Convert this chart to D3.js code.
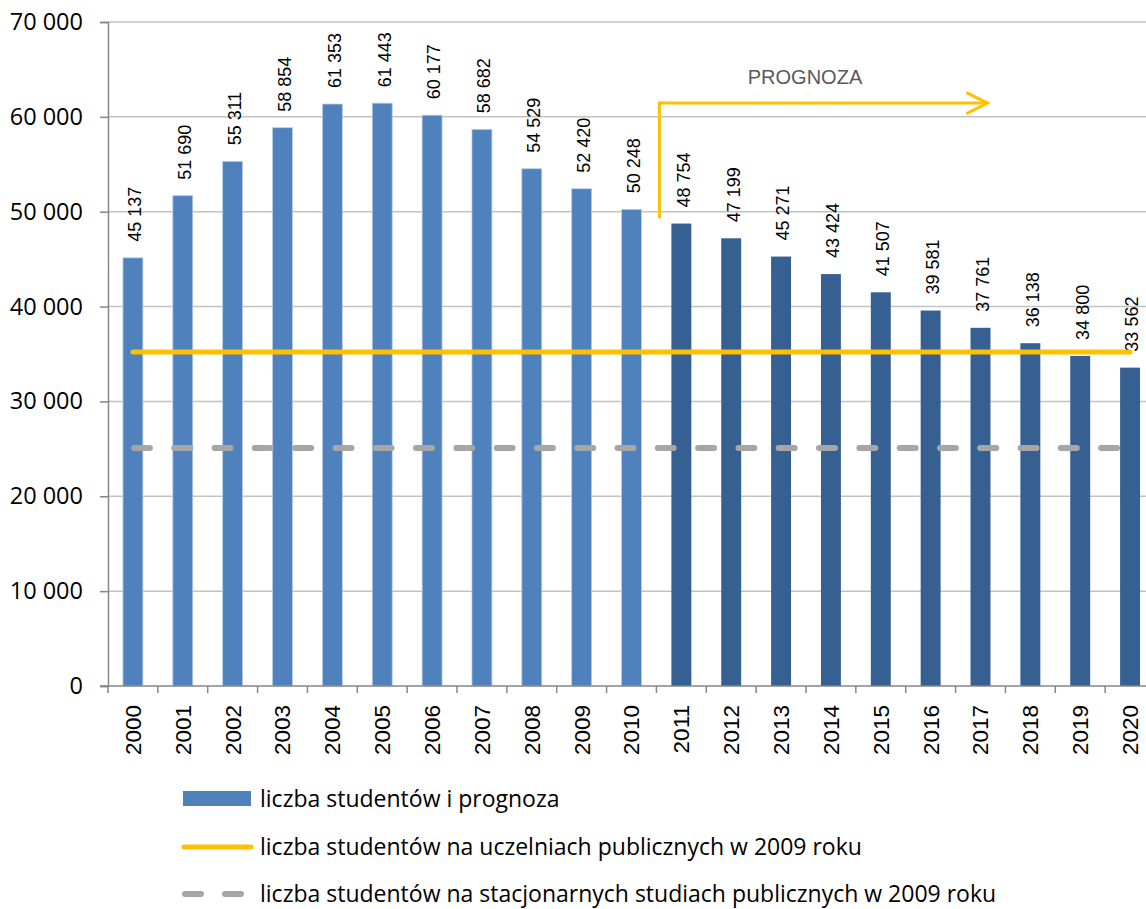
<!DOCTYPE html>
<html>
<head>
<meta charset="utf-8">
<script src="https://cdn.jsdelivr.net/npm/d3@7"></script>
<style>
  body { margin: 0; background: #fff; }
</style>
</head>
<body>
<div id="chart"></div>
<script>
// data
const years = ["2000","2001","2002","2003","2004","2005","2006","2007","2008","2009","2010",
               "2011","2012","2013","2014","2015","2016","2017","2018","2019","2020"];
const students = [45137, 51690, 55311, 58854, 61353, 61443, 60177, 58682, 54529, 52420, 50248,
                  48754, 47199, 45271, 43424, 41507, 39581, 37761, 36138, 34800, 33562];
const forecastFrom = "2011";
const publicLevel = 35200;      // liczba studentów na uczelniach publicznych w 2009
const fullTimeLevel = 25100;    // stacjonarne studia publiczne w 2009
const yTicks = [0, 10000, 20000, 30000, 40000, 50000, 60000, 70000];
const legendLabels = [
  "liczba studentów i prognoza",
  "liczba studentów na uczelniach publicznych w 2009 roku",
  "liczba studentów na stacjonarnych studiach publicznych w 2009 roku"
];

const W = 1146, H = 909;
const pLeft = 108, pRight = 1155, pTop = 22, pBottom = 686;

const svg = d3.select("#chart").append("svg")
    .attr("width", W)
    .attr("height", H);

const x = d3.scaleBand().domain(years).range([pLeft, pRight]).paddingInner(0.6).paddingOuter(0.3);
const y = d3.scaleLinear().domain([0, 70000]).range([pBottom, pTop]);

const fmt = v => d3.format(",")(v).replace(/,/g, " ");
const step = x.step();

// gridlines
svg.append("g")
  .selectAll("line")
  .data(yTicks.filter(d => d > 0))
  .join("line")
    .attr("x1", pLeft).attr("x2", W)
    .attr("y1", d => y(d)).attr("y2", d => y(d))
    .attr("stroke", "#c3c3c3")
    .attr("stroke-width", 1.5);

// bars
svg.append("g")
  .selectAll("rect")
  .data(years)
  .join("rect")
    .attr("x", d => x(d))
    .attr("width", x.bandwidth())
    .attr("y", (d, i) => y(students[i]))
    .attr("height", (d, i) => y(0) - y(students[i]))
    .attr("fill", d => +d >= +forecastFrom ? "#376092" : "#4f81bd")
    .attr("stroke", d => +d >= +forecastFrom ? "none" : "#b9cde5")
    .attr("stroke-width", 0.8);

// value labels
svg.append("g")
  .selectAll("text")
  .data(years)
  .join("text")
    .attr("transform", (d, i) => `translate(${x(d) + x.bandwidth() / 2 + 2},${y(students[i]) - 16}) rotate(-90)`)
    .attr("dy", "0.35em")
    .attr("font-family", "'Liberation Sans', Arial, sans-serif")
    .attr("font-size", 18)
    .attr("fill", "#000")
    .text((d, i) => fmt(students[i]));

// y axis
const yAxis = svg.append("g")
    .attr("transform", `translate(${pLeft},0)`)
    .call(d3.axisLeft(y).tickValues(yTicks).tickSize(8).tickPadding(17).tickFormat(fmt));
yAxis.select(".domain").attr("stroke", "#868686").attr("stroke-width", 1.5);
yAxis.selectAll(".tick line").attr("stroke", "#868686").attr("stroke-width", 1.5);
yAxis.selectAll(".tick text")
    .attr("font-family", "'Open Sans', sans-serif")
    .attr("font-size", 23.5)
    .attr("fill", "#000");

// x axis
const xAxis = svg.append("g")
    .attr("transform", `translate(0,${pBottom})`);
xAxis.append("line")
    .attr("x1", pLeft - 8).attr("x2", W)
    .attr("stroke", "#868686").attr("stroke-width", 1.5);
xAxis.selectAll(".xt")
  .data(years.concat(["end"]))
  .join("line")
    .attr("class", "xt")
    .attr("x1", (d, i) => pLeft + i * step)
    .attr("x2", (d, i) => pLeft + i * step)
    .attr("y1", 0).attr("y2", 7)
    .attr("stroke", "#868686").attr("stroke-width", 1.5);
xAxis.selectAll("text")
  .data(years)
  .join("text")
    .attr("transform", d => `translate(${x(d) + x.bandwidth() / 2},19) rotate(-90)`)
    .attr("dy", "0.35em")
    .attr("text-anchor", "end")
    .attr("font-family", "'Liberation Sans', Arial, sans-serif")
    .attr("font-size", 22.5)
    .attr("fill", "#000")
    .text(d => d);

// reference lines
const cx0 = x(years[0]) + x.bandwidth() / 2;
const cx1 = x(years[years.length - 1]) + x.bandwidth() / 2;
svg.append("line")
    .attr("x1", cx0).attr("x2", cx1)
    .attr("y1", y(publicLevel)).attr("y2", y(publicLevel))
    .attr("stroke", "#ffc000").attr("stroke-width", 5)
    .attr("stroke-linecap", "round");
svg.append("line")
    .attr("x1", cx0 + 1).attr("x2", cx1)
    .attr("y1", y(fullTimeLevel)).attr("y2", y(fullTimeLevel))
    .attr("stroke", "#a6a6a6").attr("stroke-width", 6)
    .attr("stroke-linecap", "round")
    .attr("stroke-dasharray", "16 24.3");

// PROGNOZA arrow
const ax = x(forecastFrom) - (step - x.bandwidth()) / 2 + 3;
const ay0 = y(49300), ay1 = y(61450);
const axEnd = x("2017") + x.bandwidth() / 2 + 7;
svg.append("path")
    .attr("d", `M${ax},${ay0} V${ay1} H${axEnd}`)
    .attr("fill", "none")
    .attr("stroke", "#ffc000").attr("stroke-width", 3);
svg.append("path")
    .attr("d", `M${axEnd - 20},${ay1 - 10} L${axEnd},${ay1} L${axEnd - 20},${ay1 + 10}`)
    .attr("fill", "none")
    .attr("stroke", "#ffc000").attr("stroke-width", 3)
    .attr("stroke-linecap", "round");
svg.append("text")
    .attr("x", 805).attr("y", 84)
    .attr("text-anchor", "middle")
    .attr("font-family", "'Liberation Sans', Arial, sans-serif")
    .attr("font-size", 20)
    .attr("fill", "#595959")
    .text("PROGNOZA");

// legend
const legend = svg.append("g").attr("transform", "translate(183,0)");
const rowsY = [798.5, 847, 894];
legend.append("rect")
    .attr("x", 0).attr("y", rowsY[0] - 7.5)
    .attr("width", 68).attr("height", 15)
    .attr("fill", "#4f81bd");
legend.append("line")
    .attr("x1", 1).attr("x2", 68)
    .attr("y1", rowsY[1]).attr("y2", rowsY[1])
    .attr("stroke", "#ffc000").attr("stroke-width", 5)
    .attr("stroke-linecap", "round");
legend.append("line")
    .attr("x1", 2).attr("x2", 62)
    .attr("y1", rowsY[2]).attr("y2", rowsY[2])
    .attr("stroke", "#a6a6a6").attr("stroke-width", 6)
    .attr("stroke-linecap", "round")
    .attr("stroke-dasharray", "16 24");
legend.selectAll("text")
  .data(legendLabels)
  .join("text")
    .attr("x", 77)
    .attr("y", (d, i) => rowsY[i])
    .attr("dy", "0.35em")
    .attr("font-family", "'Open Sans', sans-serif")
    .attr("font-size", 23)
    .attr("fill", "#000")
    .text(d => d);
</script>
</body>
</html>
